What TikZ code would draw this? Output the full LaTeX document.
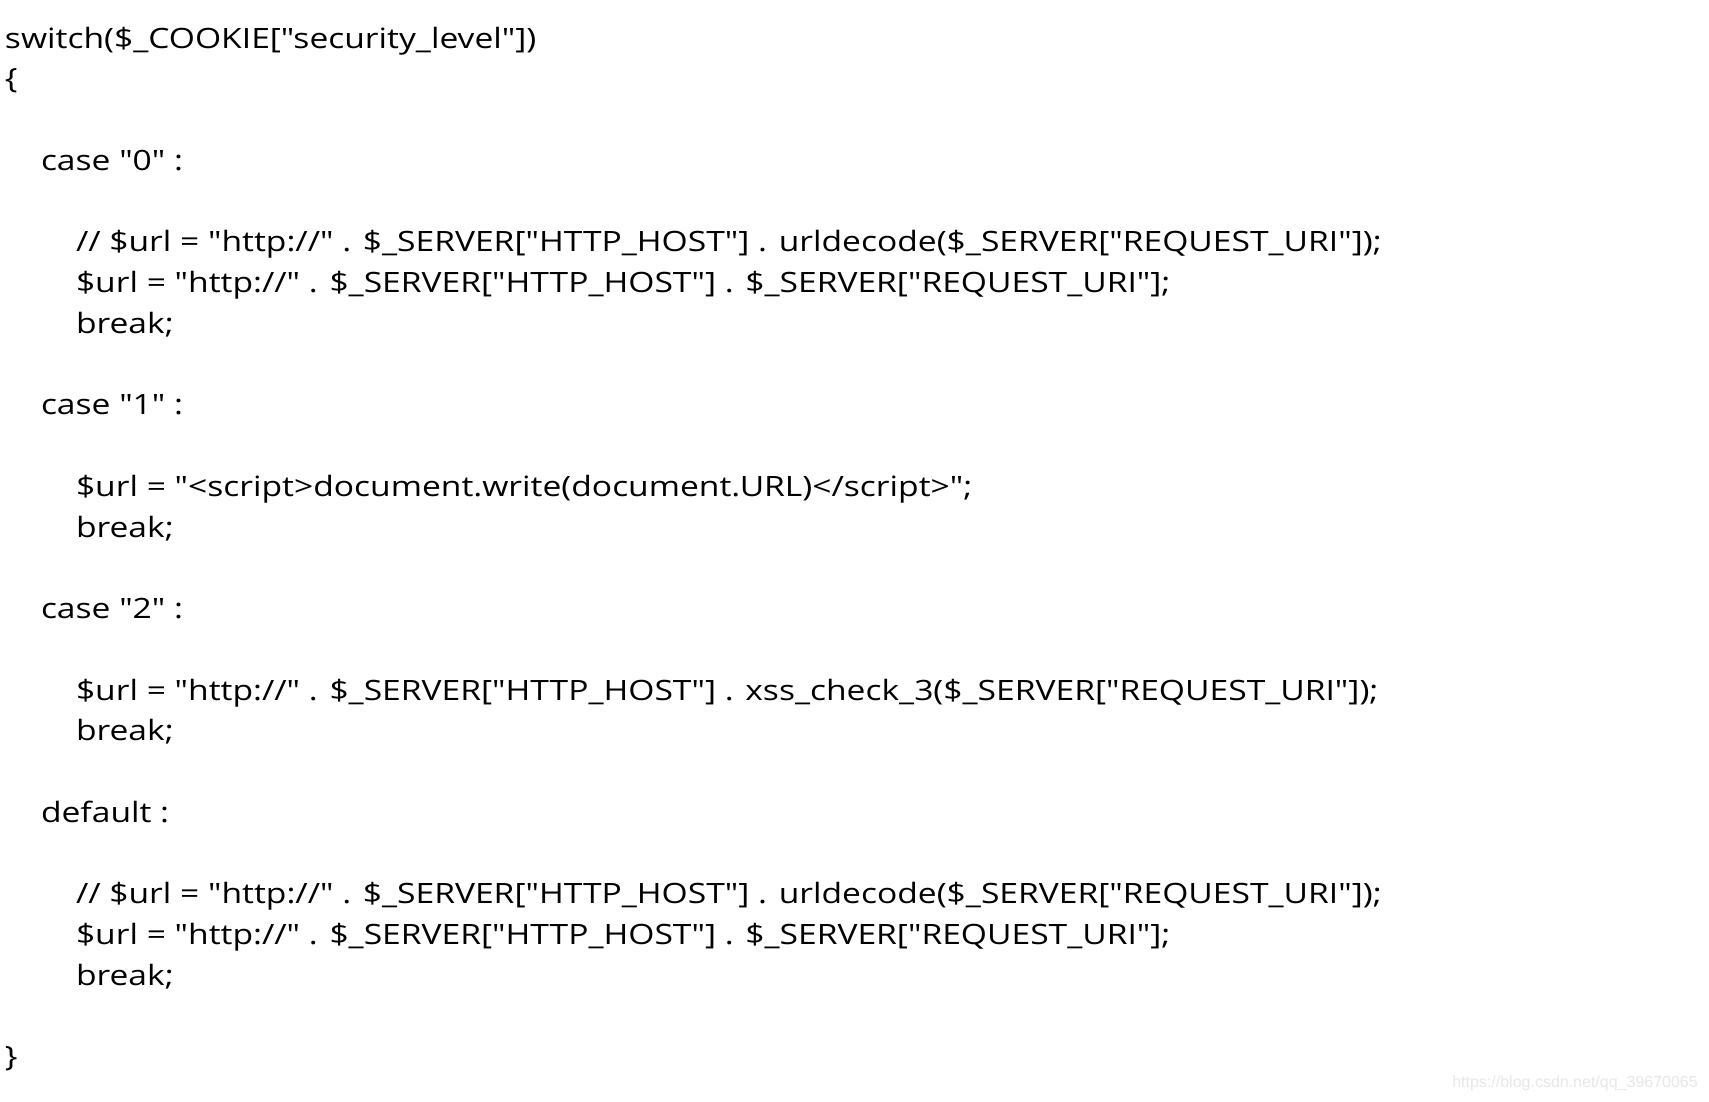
\documentclass[tikz,border=0pt]{standalone}
\usepackage{fontspec}
\setmainfont{Open Sans}[Ligatures=TeXOff,FakeStretch=1.2]
\newfontfamily\wmfont{Liberation Sans}
\begin{document}
\begin{tikzpicture}[x=1pt,y=-1pt,
  code/.style={anchor=base west,inner sep=0pt,outer sep=0pt,font=\fontsize{28}{28}\selectfont,text=black},
  wm/.style={anchor=base east,inner sep=0pt,font=\wmfont\fontsize{16}{16}\selectfont,text=black!9}]
\useasboundingbox[fill=white] (0,0) rectangle (1709,1101);
\def\bl#1{48+40.75*#1}
\node[code] (l0) at (5,{\bl{0}}) {switch(\$\_COOKIE["security\_level"])};
\node[code] (l1) at (5,{\bl{1}}) {\{};
\node[code] (l3) at (41,{\bl{3}}) {case "0" :};
\node[code] (l5) at (76,{\bl{5}}) {// \$url = "http://" . \$\_SERVER["HTTP\_HOST"] . urldecode(\$\_SERVER["REQUEST\_URI"]);};
\node[code] (l6) at (76,{\bl{6}}) {\$url = "http://" . \$\_SERVER["HTTP\_HOST"] . \$\_SERVER["REQUEST\_URI"];};
\node[code] (l7) at (76,{\bl{7}}) {break;};
\node[code] (l9) at (41,{\bl{9}}) {case "1" :};
\node[code] (l11) at (76,{\bl{11}}) {\$url = "<script>document.write(document.URL)</script>";};
\node[code] (l12) at (76,{\bl{12}}) {break;};
\node[code] (l14) at (41,{\bl{14}}) {case "2" :};
\node[code] (l16) at (76,{\bl{16}}) {\$url = "http://" . \$\_SERVER["HTTP\_HOST"] . xss\_check\_3(\$\_SERVER["REQUEST\_URI"]);};
\node[code] (l17) at (76,{\bl{17}}) {break;};
\node[code] (l19) at (41,{\bl{19}}) {default :};
\node[code] (l21) at (76,{\bl{21}}) {// \$url = "http://" . \$\_SERVER["HTTP\_HOST"] . urldecode(\$\_SERVER["REQUEST\_URI"]);};
\node[code] (l22) at (76,{\bl{22}}) {\$url = "http://" . \$\_SERVER["HTTP\_HOST"] . \$\_SERVER["REQUEST\_URI"];};
\node[code] (l23) at (76,{\bl{23}}) {break;};
\node[code] (l25) at (5,{\bl{25}}) {\}};
\node[wm] (wm) at (1698,1087) {https://blog.csdn.net/qq\_39670065};
\end{tikzpicture}
\end{document}
